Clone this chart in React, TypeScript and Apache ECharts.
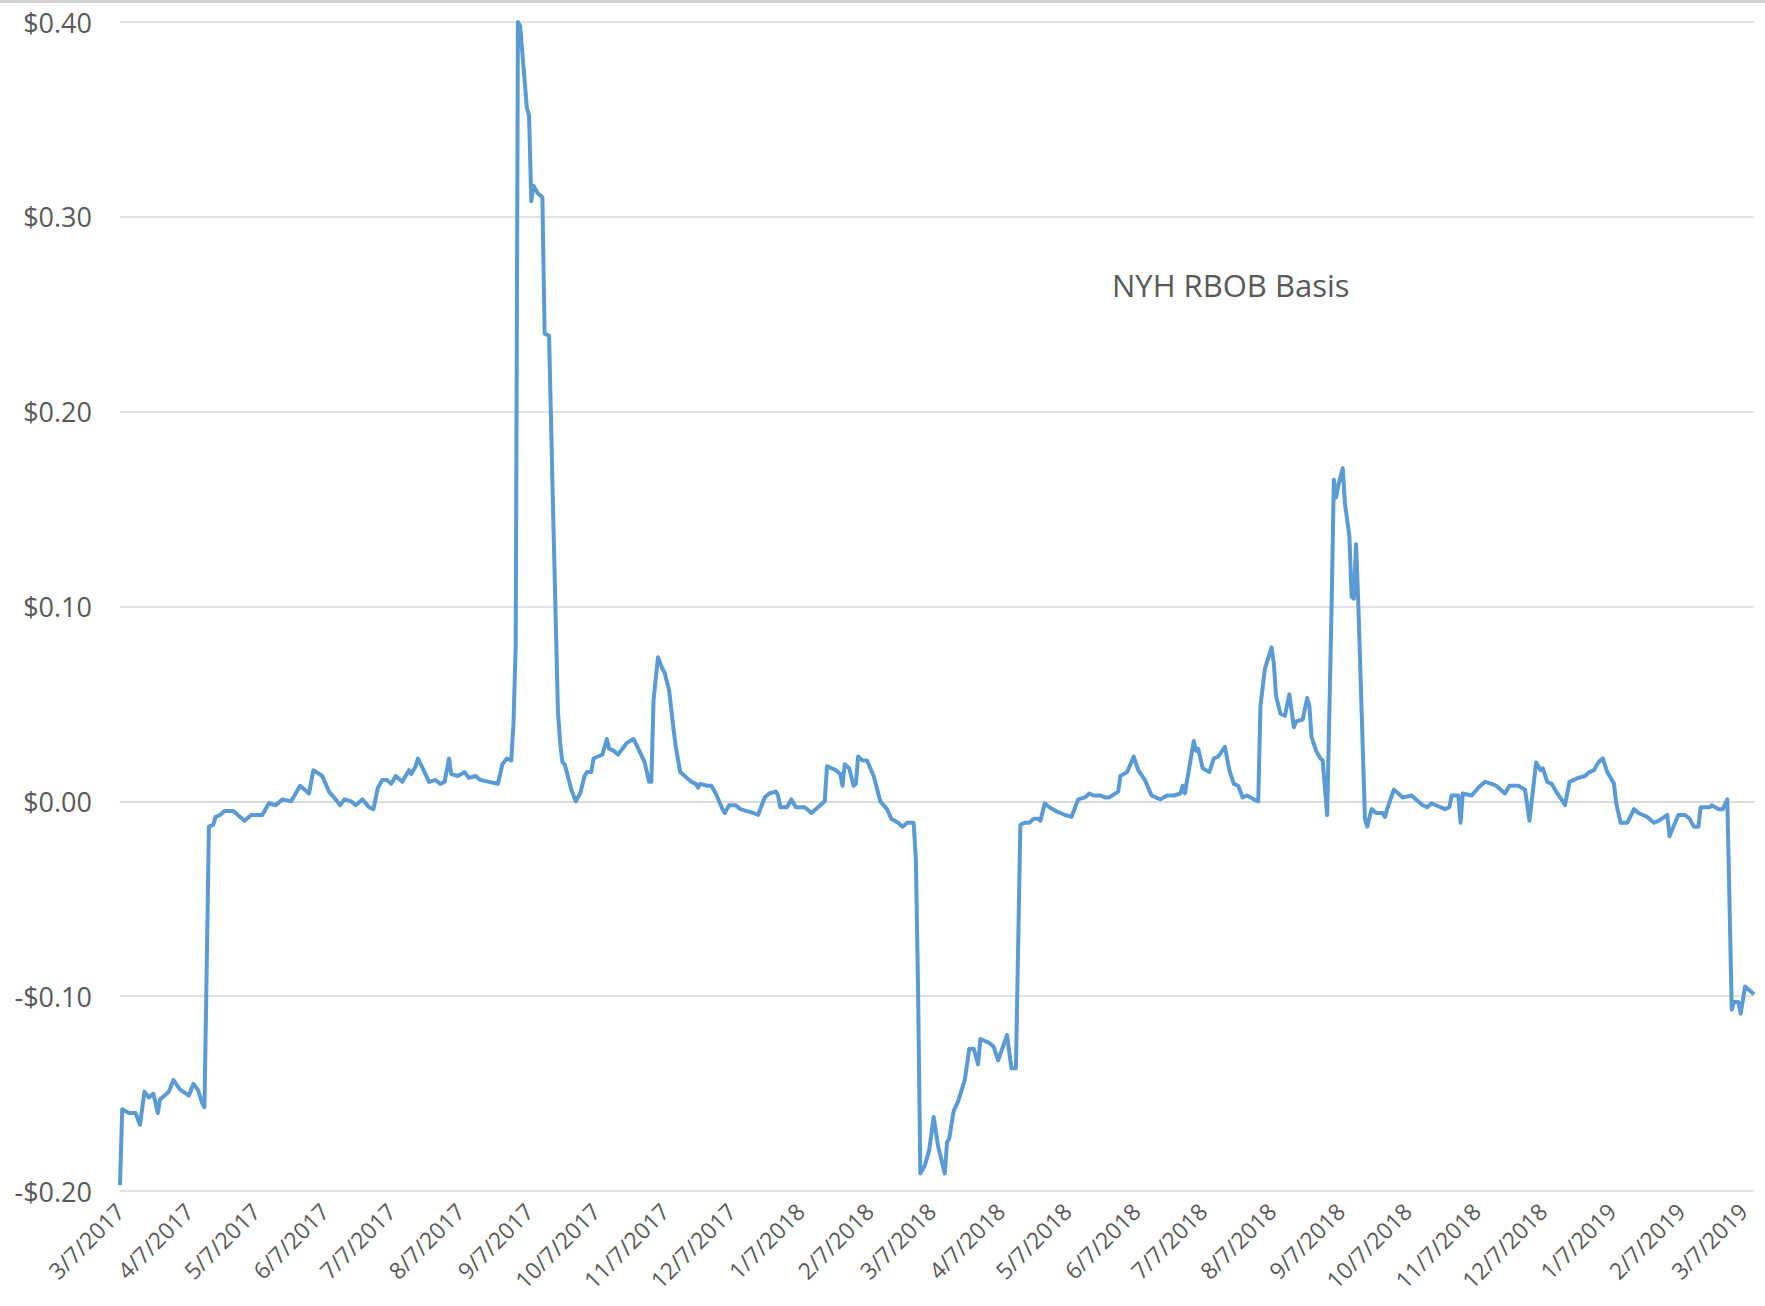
import React, { useEffect, useRef } from "react";
import * as echarts from "echarts";

// Day 0 = 3/7/2017 (daily business-day series, offsets in calendar days)
const START_DATE = Date.UTC(2017, 2, 7);

const tickLabels = [
  "3/7/2017", "4/7/2017", "5/7/2017", "6/7/2017", "7/7/2017", "8/7/2017",
  "9/7/2017", "10/7/2017", "11/7/2017", "12/7/2017", "1/7/2018", "2/7/2018",
  "3/7/2018", "4/7/2018", "5/7/2018", "6/7/2018", "7/7/2018", "8/7/2018",
  "9/7/2018", "10/7/2018", "11/7/2018", "12/7/2018", "1/7/2019", "2/7/2019",
  "3/7/2019",
];

const yTicks = [-0.2, -0.1, 0, 0.1, 0.2, 0.3, 0.4];

const sampleDays = [
  0, 1, 4, 7, 9, 11, 13, 15, 17, 18, 22, 24, 27, 31, 33, 35, 37, 38,
  40, 42, 43, 45, 47, 51, 54, 56, 59, 64, 67, 70, 73, 77, 79, 81, 84, 85,
  87, 91, 94, 97, 99, 101, 104, 106, 109, 112, 114, 116, 118, 120, 122, 124, 127, 130,
  131, 133, 134, 137, 139, 142, 144, 146, 148, 149, 152, 155, 157, 160, 162, 166, 170, 172,
  174, 176, 177, 178, 179, 180, 182, 183, 184, 185, 186, 188, 190, 191, 193, 195, 197, 198,
  199, 200, 201, 203, 205, 207, 209, 210, 212, 213, 215, 217, 219, 220, 222, 224, 226, 228,
  231, 234, 236, 238, 239, 240, 242, 244, 245, 247, 249, 250, 252, 255, 257, 259, 260, 261,
  264, 266, 268, 271, 272, 274, 277, 279, 282, 285, 287, 290, 292, 295, 296, 297, 300, 302,
  304, 308, 311, 314, 317, 318, 322, 324, 325, 326, 328, 330, 331, 332, 334, 336, 339, 342,
  345, 347, 350, 352, 354, 357, 358, 359, 360, 362, 364, 366, 368, 371, 372, 373, 375, 377,
  380, 382, 384, 386, 387, 391, 393, 395, 399, 401, 403, 405, 407, 409, 411, 413, 414, 416,
  418, 421, 423, 425, 428, 431, 434, 436, 438, 441, 443, 445, 449, 450, 453, 456, 458, 461,
  464, 468, 471, 474, 477, 478, 479, 483, 484, 485, 487, 490, 492, 494, 497, 499, 501, 503,
  505, 507, 510, 512, 513, 515, 518, 519, 520, 522, 524, 526, 528, 529, 532, 534, 535, 536,
  538, 540, 541, 543, 545, 546, 547, 548, 550, 551, 553, 554, 555, 556, 557, 560, 561, 563,
  565, 568, 569, 570, 573, 574, 577, 581, 583, 586, 588, 590, 592, 596, 598, 599, 602, 603,
  604, 608, 611, 614, 617, 619, 623, 625, 629, 632, 634, 637, 639, 640, 642, 644, 646, 649,
  650, 652, 656, 659, 661, 663, 665, 667, 669, 672, 673, 675, 678, 681, 683, 687, 690, 692,
  696, 697, 698, 701, 704, 706, 708, 710, 711, 715, 716, 719, 721, 723, 725, 726, 728, 729,
  731, 735,
];

const basisValues = [
  -0.197, -0.158, -0.16, -0.16, -0.166, -0.149, -0.152, -0.15, -0.16, -0.153, -0.149, -0.143, -0.148, -0.151, -0.145, -0.148, -0.155, -0.157,
  -0.013, -0.012, -0.008, -0.007, -0.005, -0.005, -0.008, -0.01, -0.007, -0.007, -0.001, -0.002, 0.001, 0.0, 0.004, 0.008, 0.005, 0.004,
  0.016, 0.013, 0.005, 0.001, -0.002, 0.001, 0.0, -0.002, 0.001, -0.003, -0.004, 0.007, 0.011, 0.011, 0.009, 0.013, 0.01, 0.016,
  0.014, 0.018, 0.022, 0.015, 0.01, 0.011, 0.009, 0.01, 0.022, 0.014, 0.013, 0.015, 0.012, 0.013, 0.011, 0.01, 0.009, 0.019,
  0.022, 0.021, 0.04, 0.08, 0.4, 0.398, 0.37, 0.356, 0.352, 0.308, 0.316, 0.312, 0.31, 0.24, 0.239, 0.14, 0.046, 0.03,
  0.02, 0.019, 0.015, 0.006, 0.0, 0.004, 0.013, 0.015, 0.015, 0.022, 0.023, 0.024, 0.032, 0.027, 0.026, 0.024, 0.027, 0.03,
  0.032, 0.025, 0.02, 0.01, 0.01, 0.052, 0.074, 0.068, 0.066, 0.057, 0.037, 0.028, 0.015, 0.012, 0.01, 0.009, 0.007, 0.009,
  0.008, 0.008, 0.004, -0.004, -0.006, -0.002, -0.002, -0.004, -0.005, -0.006, -0.007, 0.002, 0.004, 0.005, 0.003, -0.003, -0.003, 0.001,
  -0.003, -0.003, -0.006, -0.003, 0.0, 0.018, 0.016, 0.014, 0.008, 0.019, 0.017, 0.008, 0.009, 0.023, 0.021, 0.021, 0.013, 0.0,
  -0.004, -0.009, -0.011, -0.013, -0.011, -0.011, -0.03, -0.098, -0.191, -0.187, -0.179, -0.162, -0.177, -0.191, -0.175, -0.173, -0.159, -0.154,
  -0.143, -0.127, -0.127, -0.135, -0.122, -0.124, -0.126, -0.133, -0.12, -0.137, -0.137, -0.012, -0.011, -0.011, -0.009, -0.009, -0.01, -0.001,
  -0.003, -0.005, -0.006, -0.007, -0.008, 0.001, 0.002, 0.004, 0.003, 0.003, 0.002, 0.002, 0.005, 0.013, 0.015, 0.023, 0.016, 0.011,
  0.003, 0.001, 0.003, 0.003, 0.004, 0.008, 0.004, 0.031, 0.026, 0.027, 0.017, 0.015, 0.022, 0.023, 0.028, 0.016, 0.009, 0.008,
  0.002, 0.003, 0.001, 0.0, 0.049, 0.068, 0.079, 0.071, 0.054, 0.045, 0.044, 0.055, 0.038, 0.041, 0.042, 0.053, 0.049, 0.033,
  0.026, 0.022, 0.021, -0.007, 0.1, 0.165, 0.156, 0.162, 0.171, 0.153, 0.136, 0.105, 0.104, 0.132, 0.102, -0.009, -0.013, -0.004,
  -0.006, -0.006, -0.008, -0.004, 0.006, 0.005, 0.002, 0.003, 0.001, -0.002, -0.003, -0.001, -0.002, -0.004, -0.003, 0.003, 0.003, -0.011,
  0.004, 0.003, 0.007, 0.01, 0.009, 0.008, 0.004, 0.008, 0.008, 0.006, -0.01, 0.02, 0.016, 0.017, 0.01, 0.009, 0.005, 0.0,
  -0.002, 0.01, 0.012, 0.013, 0.015, 0.016, 0.02, 0.022, 0.015, 0.009, -0.001, -0.011, -0.011, -0.004, -0.006, -0.008, -0.011, -0.01,
  -0.007, -0.018, -0.015, -0.007, -0.007, -0.009, -0.013, -0.013, -0.003, -0.003, -0.002, -0.004, -0.004, 0.001, -0.107, -0.103, -0.103, -0.109,
  -0.095, -0.099,
];

const annotationText = "NYH RBOB Basis";

const DAY_MS = 86400000;
const labelToDay = (s: string) => {
  const [m, d, y] = s.split("/").map(Number);
  return Math.round((Date.UTC(y, m - 1, d) - START_DATE) / DAY_MS);
};

export default function App() {
  const ref = useRef<HTMLDivElement>(null);

  useEffect(() => {
    if (!ref.current) return;
    const chart = echarts.init(ref.current, null, { renderer: "svg" });
    const tickDays = tickLabels.map(labelToDay);
    const data = sampleDays.map((d, i) => [d, basisValues[i]]);
    const font = "'Open Sans', 'Noto Sans', sans-serif";
    const gray = "#595959";

    chart.setOption({
      animation: false,
      backgroundColor: "#ffffff",
      grid: { left: 120, right: 11, top: 22, bottom: 115, containLabel: false },
      xAxis: {
        type: "value",
        min: 0,
        max: sampleDays[sampleDays.length - 1],
        axisLine: { show: true, lineStyle: { color: "#d9d9d9", width: 1.5 } },
        axisTick: { show: false },
        splitLine: { show: false },
        axisLabel: {
          customValues: tickDays,
          rotate: 45,
          margin: 16,
          color: gray,
          fontFamily: font,
          fontSize: 23,
          formatter: (v: number) => {
            const idx = tickDays.indexOf(Math.round(v));
            return idx >= 0 ? tickLabels[idx] : "";
          },
        },
      },
      yAxis: {
        type: "value",
        min: yTicks[0],
        max: yTicks[yTicks.length - 1],
        interval: 0.1,
        axisLine: { show: false },
        axisTick: { show: false },
        splitLine: { show: true, lineStyle: { color: "#d9d9d9", width: 1.5 } },
        axisLabel: {
          margin: 28,
          color: gray,
          fontFamily: font,
          fontSize: 27,
          formatter: (v: number) => {
            const r = Math.round(v * 100) / 100;
            return (r < 0 ? "-$" : "$") + Math.abs(r).toFixed(2);
          },
        },
      },
      graphic: [
        {
          type: "rect",
          left: 0,
          top: 0,
          shape: { width: 1765, height: 3 },
          style: { fill: "#d0d0d0" },
          silent: true,
        },
        {
          type: "text",
          left: 1112,
          top: 269,
          style: {
            text: annotationText,
            fill: gray,
            font: `31px ${font}`,
          },
        },
      ],
      series: [
        {
          type: "line",
          data,
          showSymbol: false,
          symbol: "none",
          lineStyle: { color: "#5b9bd5", width: 4, join: "round" },
          itemStyle: { color: "#5b9bd5" },
        },
      ],
    });

    return () => chart.dispose();
  }, []);

  return (
    <div
      ref={ref}
      style={{ position: "fixed", left: 0, top: 0, width: 1765, height: 1306 }}
    />
  );
}
